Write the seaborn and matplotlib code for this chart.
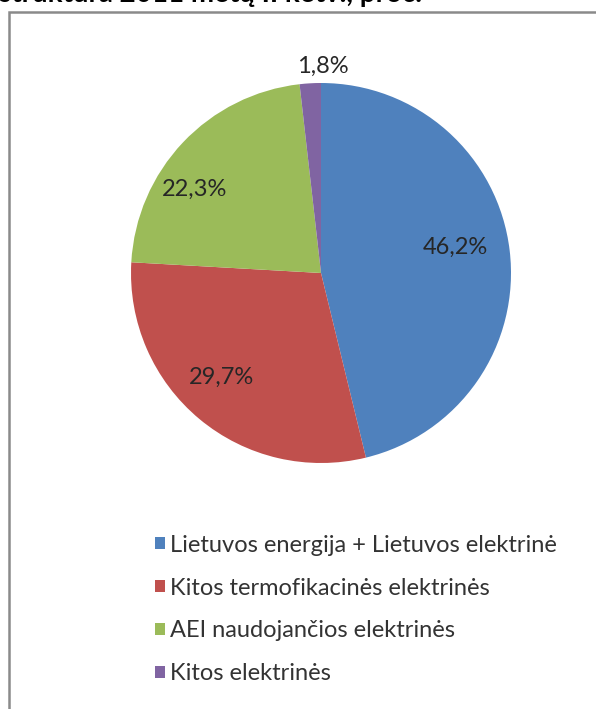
import matplotlib
matplotlib.use("Agg")
import matplotlib.pyplot as plt
from matplotlib.patches import Rectangle
import numpy as np
import seaborn as sns

categories = ["Lietuvos energija + Lietuvos elektrinė",
              "Kitos termofikacinės elektrinės",
              "AEI naudojančios elektrinės",
              "Kitos elektrinės"]
values = [46.2, 29.7, 22.3, 1.8]
value_labels = ["46,2%", "29,7%", "22,3%", "1,8%"]
colors = ["#4F81BD", "#C0504D", "#9BBB59", "#8064A2"]
title = "struktūra 2011 metų II ketv., proc."

sns.set_theme(style="white")
plt.rcParams['font.family'] = ['Lato', 'DejaVu Sans']
palette = sns.color_palette(colors)

W, H = 596, 709
fig = plt.figure(figsize=(W / 100, H / 100), dpi=100)
fig.patch.set_facecolor("white")

# outer chart border (extends past right & bottom edges)
fig.patches.append(Rectangle((9 / W, -0.05), 1.2, 1 - 12 / H + 0.05,
                             transform=fig.transFigure, fill=False,
                             edgecolor="#8a8a8a", linewidth=1.8, zorder=0))

# title (cut off at the top of the image)
fig.text(-1 / W, 1 - 2 / H, title, fontsize=20, fontweight="bold",
         color="black", ha="left", va="baseline")

cx, cy, r = 321, 273, 190
ax = fig.add_axes([(cx - r) / W, (H - cy - r) / H, 2 * r / W, 2 * r / H])
wedges, _ = ax.pie(values, colors=palette, startangle=90, counterclock=False,
                   radius=1, wedgeprops=dict(linewidth=0))
ax.set_xlim(-1, 1)
ax.set_ylim(-1, 1)
ax.set_aspect("equal")
ax.axis("off")

dists = [0.72, 0.76, 0.80, 1.09]
shifts = [4, -4, 10, -3.8]
for w, lab, d, s in zip(wedges, value_labels, dists, shifts):
    ang = np.deg2rad((w.theta1 + w.theta2) / 2 + s)
    ax.text(d * np.cos(ang), d * np.sin(ang), lab, ha="center", va="center",
            fontsize=17, color="#262626")

handles = [Rectangle((0, 0), 1, 1, facecolor=c, edgecolor="none") for c in palette]
leg = fig.legend(handles, categories, loc="center left",
                 bbox_to_anchor=(155 / W, 1 - 609.5 / H), frameon=False,
                 fontsize=17, handlelength=0.43, handleheight=0.43,
                 handletextpad=0.22, labelspacing=0.93, borderpad=0,
                 borderaxespad=0)
for t in leg.get_texts():
    t.set_color("#333333")

fig.savefig("out.png", dpi=100, facecolor="white")
